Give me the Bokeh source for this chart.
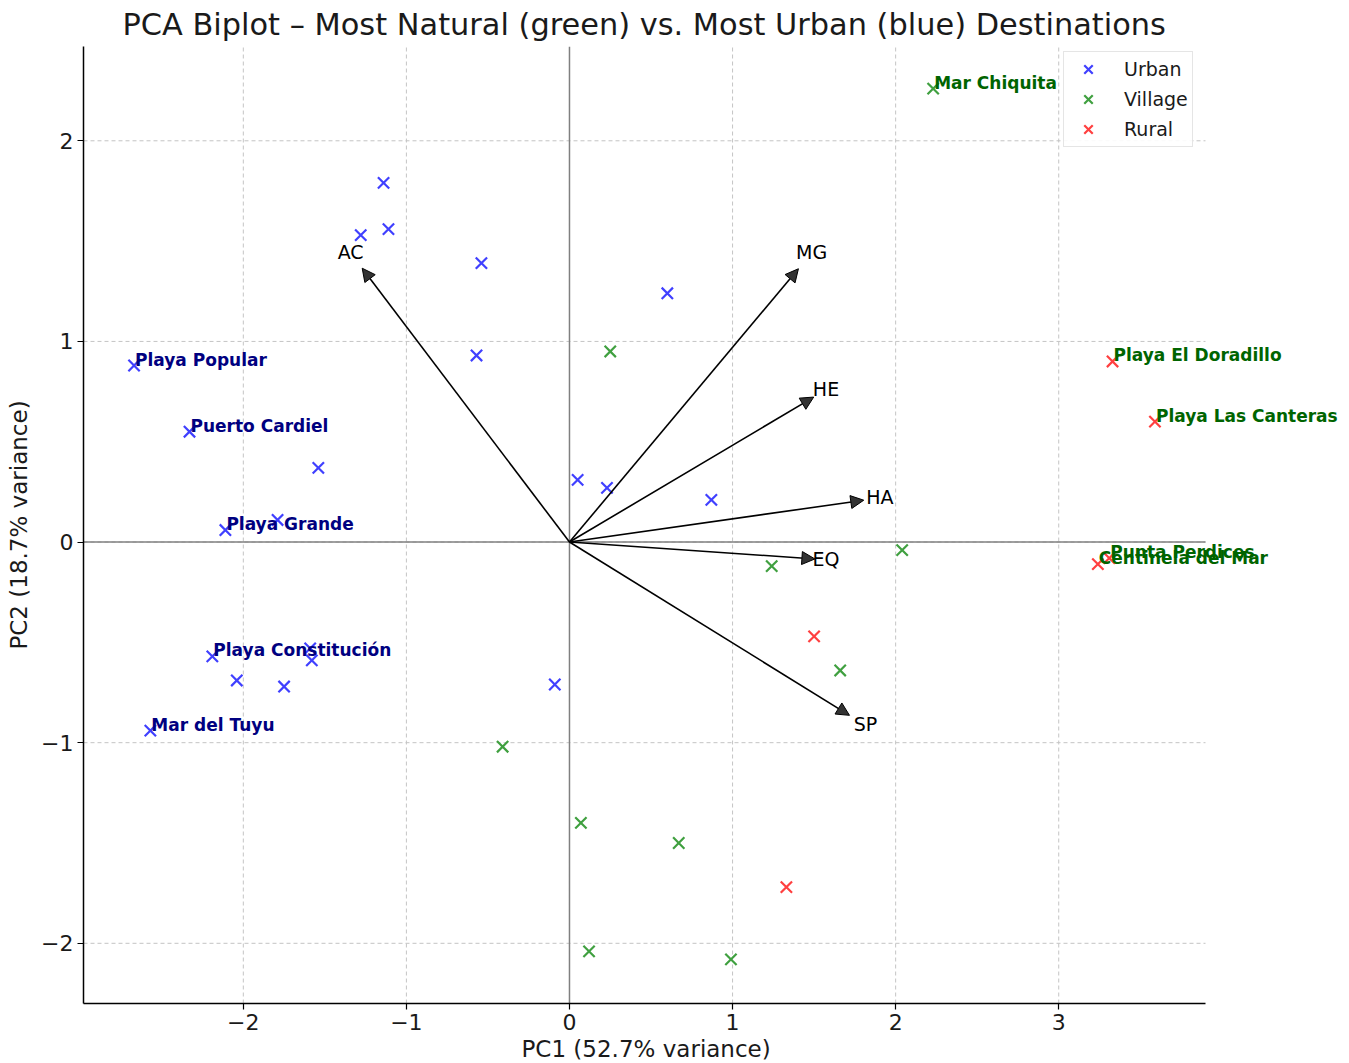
from bokeh.plotting import figure
from bokeh.models import (ColumnDataSource, Arrow, NormalHead, Legend, LegendItem,
                          FixedTicker, Range1d, LabelSet, Label, Title)
from bokeh.embed import file_html
from bokeh.resources import INLINE
from bokeh.core.properties import value
import math

# ---------------- data ----------------
pc1 = [-2.67, -2.33, -1.54, -2.11, -1.79, -2.19, -2.04, -1.75, -1.59, -1.58, -2.57, -0.09,
       -1.14, -1.28, -1.11, -0.54, -0.57, 0.60, 0.05, 0.23, 0.87,
       2.23, 0.25, 1.24, 2.04, 1.66, -0.41, 0.07, 0.67, 0.12, 0.99,
       3.33, 3.59, 3.24, 3.31, 1.50, 1.33]
pc2 = [0.88, 0.55, 0.37, 0.06, 0.11, -0.57, -0.69, -0.72, -0.53, -0.59, -0.94, -0.71,
       1.79, 1.53, 1.56, 1.39, 0.93, 1.24, 0.31, 0.27, 0.21,
       2.26, 0.95, -0.12, -0.04, -0.64, -1.02, -1.40, -1.50, -2.04, -2.08,
       0.90, 0.60, -0.11, -0.08, -0.47, -1.72]
dest_type = (["Urban"] * 21) + (["Village"] * 10) + (["Rural"] * 6)
names = ["Playa Popular", "Puerto Cardiel", "", "Playa Grande", "", "Playa Constitución", "", "", "", "",
         "Mar del Tuyu", "", "", "", "", "", "", "", "", "", "",
         "Mar Chiquita", "", "", "", "", "", "", "", "", "",
         "Playa El Doradillo", "Playa Las Canteras", "Centinela del Mar", "Punta Perdices", "", ""]
most_natural = ["Mar Chiquita", "Playa El Doradillo", "Playa Las Canteras", "Centinela del Mar", "Punta Perdices"]
most_urban = ["Playa Popular", "Puerto Cardiel", "Playa Grande", "Playa Constitución", "Mar del Tuyu"]

variables = ["AC", "MG", "HE", "HA", "EQ", "SP"]
load_x = [-1.22, 1.35, 1.43, 1.73, 1.43, 1.65]
load_y = [1.31, 1.31, 0.69, 0.20, -0.08, -0.83]

x_ticks = [-2, -1, 0, 1, 2, 3]
y_ticks = [-2, -1, 0, 1, 2]
x_lim = (-2.98, 3.90)
y_lim = (-2.30, 2.47)

type_colors = {"Urban": "#4040ff", "Village": "#40a040", "Rural": "#ff4040"}
FONT = "DejaVu Sans"

# layout (pixels)
W, H = 1349, 1063
BL, BR, BT, BB = 83, 144, 45, 60
axes_w = W - BL - BR
frame_w = W - BL          # frame runs to the right page edge so labels can overflow the axes
x_right = x_lim[0] + (x_lim[1] - x_lim[0]) * frame_w / axes_w

p = figure(width=W, height=H, output_backend="svg", toolbar_location=None,
           x_range=Range1d(x_lim[0], x_right), y_range=Range1d(*y_lim),
           min_border_left=BL, min_border_right=0, min_border_top=BT, min_border_bottom=BB)
p.outline_line_color = None
p.background_fill_color = "white"
p.grid.visible = False

p.title.text = "PCA Biplot \u2013 Most Natural (green) vs. Most Urban (blue) Destinations"
p.title.align = "left"
p.title.offset = 39
p.title.text_font = FONT
p.title.text_font_size = "30.4px"
p.title.text_font_style = "normal"
p.title.text_color = "#1a1a1a"
p.title.standoff = 9

for ax in (p.xaxis, p.yaxis):
    ax.axis_line_color = "black"
    ax.axis_line_width = 1.5
    ax.major_tick_in = 0
    ax.major_tick_out = 6
    ax.major_tick_line_width = 1.2
    ax.minor_tick_line_color = None
    ax.major_label_text_font = FONT
    ax.major_label_text_font_size = "22px"
    ax.major_label_text_color = "#1a1a1a"
    ax.axis_label_text_font = FONT
    ax.axis_label_text_font_size = "23px"
    ax.axis_label_text_font_style = "normal"
    ax.axis_label_text_color = "#1a1a1a"
    ax.major_label_standoff = 4
    ax.axis_label_standoff = 6

p.xaxis.bounds = x_lim
p.xaxis.ticker = FixedTicker(ticks=x_ticks)
p.yaxis.ticker = FixedTicker(ticks=y_ticks)
p.yaxis.axis_label = "PC2 (18.7% variance)"
p.xaxis.major_label_overrides = {t: str(t).replace("-", "\u2212") for t in x_ticks}
p.yaxis.major_label_overrides = {t: str(t).replace("-", "\u2212") for t in y_ticks}

xlab = Title(text="PC1 (52.7% variance)", align="left", offset=438,
             text_font=FONT, text_font_size="23px", text_font_style="normal",
             text_color="#1a1a1a", standoff=3)
p.add_layout(xlab, "below")

# dashed grid limited to the axes box
p.segment(x0=x_ticks, x1=x_ticks, y0=[y_lim[0]] * len(x_ticks), y1=[y_lim[1]] * len(x_ticks),
          line_color="#c4c4c4", line_dash="4 3", line_width=1)
p.segment(x0=[x_lim[0]] * len(y_ticks), x1=[x_lim[1]] * len(y_ticks), y0=y_ticks, y1=y_ticks,
          line_color="#c4c4c4", line_dash="4 3", line_width=1)
# zero lines
p.segment(x0=[x_lim[0], 0], x1=[x_lim[1], 0], y0=[0, y_lim[0]], y1=[0, y_lim[1]],
          line_color="#808080", line_width=1.5)

# points
renderers = {}
for t in ["Urban", "Village", "Rural"]:
    idx = [i for i, d in enumerate(dest_type) if d == t]
    src = ColumnDataSource(dict(x=[pc1[i] for i in idx], y=[pc2[i] for i in idx]))
    renderers[t] = p.scatter("x", "y", source=src, marker="x", size=16,
                             line_color=type_colors[t], line_width=2.2)

# point labels
for group, col in ((most_natural, "#006400"), (most_urban, "#000080")):
    for i, n in enumerate(names):
        if n in group:
            p.add_layout(Label(x=pc1[i], y=pc2[i], text=n, x_offset=1, y_offset=6,
                               text_font=FONT, text_font_size="17px", text_font_style="bold",
                               text_color=col, text_align="left", text_baseline="alphabetic"))

# loading arrows
head_len = 0.075
tip_x, tip_y, lab_x, lab_y = [], [], [], []
for lx, ly in zip(load_x, load_y):
    r = math.hypot(lx, ly)
    tip_x.append(lx * (1 + head_len / r))
    tip_y.append(ly * (1 + head_len / r))
    lab_x.append(lx * 1.1)
    lab_y.append(ly * 1.1)
asrc = ColumnDataSource(dict(x0=[0] * len(variables), y0=[0] * len(variables), x1=tip_x, y1=tip_y))
p.add_layout(Arrow(end=NormalHead(size=13, fill_color="#333333", line_color="black", line_width=1),
                   x_start="x0", y_start="y0", x_end="x1", y_end="y1", source=asrc,
                   line_color="black", line_width=1.6))
vsrc = ColumnDataSource(dict(x=lab_x, y=lab_y, t=variables))
p.add_layout(LabelSet(x="x", y="y", text="t", source=vsrc, text_font=value(FONT),
                      text_font_size="19px", text_color="black", y_offset=1,
                      text_align="center", text_baseline="middle"))

legend = Legend(items=[LegendItem(label=t, renderers=[renderers[t]]) for t in ["Urban", "Village", "Rural"]],
                location=(980, 856))
legend.margin = 0
legend.padding = 2
legend.spacing = 0
legend.glyph_width = 44
legend.glyph_height = 30
legend.label_height = 30
legend.label_width = 66
legend.label_standoff = 14
legend.label_text_font = FONT
legend.label_text_font_size = "19px"
legend.label_text_color = "#1a1a1a"
legend.border_line_color = "#cccccc"
legend.border_line_width = 1.2
legend.background_fill_alpha = 0.9
p.add_layout(legend)

open("out.html", "w").write(file_html(p, INLINE))
